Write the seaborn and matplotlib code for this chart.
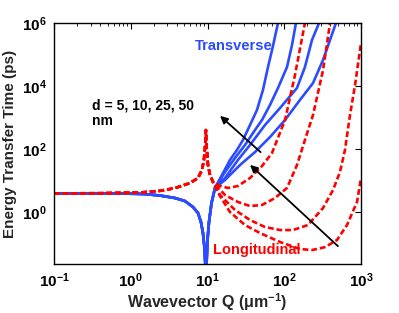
import numpy as np
import pandas as pd
import matplotlib
matplotlib.use("Agg")
import matplotlib.pyplot as plt
import seaborn as sns

# ---------------- data ----------------
# shared transverse branch (Q < ~12.5)
q_T_common = [0.1, 0.4, 0.72, 1.49, 2.4, 3.77, 5.09, 6.47, 7.52, 8.22, 8.73, 9.14, 9.36, 9.53,
              9.70, 10.0, 10.46, 11.28, 12.52]
t_T_common = [3.9, 3.9, 3.88, 3.73, 3.34, 2.78, 2.23, 1.44, 0.93, 0.48, 0.215, 0.072, 0.022, 0.001,
              0.02, 0.129, 0.48, 1.93, 5.8]
# shared longitudinal branch (Q < ~11.8)
q_L_common = [0.1, 0.4, 1.32, 2.4, 3.77, 5.92, 7.52, 8.47, 8.98, 9.28, 9.53, 9.70, 10.15, 10.78, 11.79]
t_L_common = [3.9, 3.95, 4.15, 4.7, 5.75, 8.3, 12.0, 21.5, 45.0, 107.0, 400.0, 134.0, 31.0, 15.0, 9.0]

# transverse branches for d = 50, 25, 10, 5 nm
q_T = {
    50: [15.45, 19.6, 24.2, 29.0, 35.8, 44.1, 52.8, 61.4, 71.3, 82.9],
    25: [16.9, 22.8, 30.8, 41.6, 51.3, 65.2, 82.9, 108.6, 126.2, 142.0],
    10: [16.9, 24.9, 35.8, 56.1, 88.1, 146.5, 186.0, 230.0, 284.0],
    5:  [16.9, 26.5, 41.6, 65.2, 102.4, 160.0, 237.0, 320.0, 395.0, 472.0],
}
t_T = {
    50: [15.0, 44.8, 93.0, 193.0, 578.0, 1730.0, 7460.0, 4.0e4, 1.86e5, 1.0e6],
    25: [18.6, 51.8, 134.0, 401.0, 834.0, 2500.0, 8650.0, 4.0e4, 2.0e5, 1.0e6],
    10: [12.0, 44.8, 134.0, 578.0, 2000.0, 8650.0, 4.0e4, 2.9e5, 1.0e6],
    5:  [10.4, 31.0, 80.0, 240.0, 834.0, 3600.0, 1.24e4, 6.7e4, 2.9e5, 1.0e6],
}
# longitudinal branches for d = 50, 25, 10, 5 nm
q_L = {
    50: [14.55, 18.5, 24.9, 35.8, 51.3, 69.2, 102.4, 138.0, 186.0],
    25: [16.9, 24.9, 35.8, 51.3, 75.7, 108.6, 146.5, 186.0, 237.0, 320.0, 395.0],
    10: [14.55, 22.8, 35.8, 56.1, 88.1, 130.0, 204.0, 320.0, 432.0, 532.0, 618.0, 719.0, 836.0, 1000.0],
    5:  [14.55, 19.6, 30.8, 48.3, 88.1, 160.0, 230.0, 340.0, 486.0, 657.0, 887.0, 1000.0],
}
t_L = {
    50: [6.7, 5.8, 6.7, 12.0, 28.8, 74.7, 834.0, 2.23e4, 1.0e6],
    25: [3.47, 2.08, 1.55, 1.67, 2.78, 5.8, 31.0, 193.0, 1200.0, 3.2e4, 1.0e6],
    10: [3.47, 1.16, 0.557, 0.334, 0.268, 0.268, 0.386, 1.34, 5.0, 18.6, 93.0, 1200.0, 1.07e4, 2.3e5],
    5:  [3.22, 1.0, 0.386, 0.215, 0.112, 0.067, 0.062, 0.077, 0.129, 0.386, 2.08, 12.0],
}
d_values = [50, 25, 10, 5]

# ---------------- build long table ----------------
rows = []
for d in d_values:
    for q, t in zip(q_T_common + q_T[d], t_T_common + t_T[d]):
        rows.append(("Transverse", d, q, t))
    for q, t in zip(q_L_common + q_L[d], t_L_common + t_L[d]):
        rows.append(("Longitudinal", d, q, t))
df = pd.DataFrame(rows, columns=["mode", "d", "Q", "T"])

# ---------------- style ----------------
sns.set_theme(style="white")
plt.rcParams["font.family"] = ["Liberation Sans", "DejaVu Sans"]
plt.rcParams["font.weight"] = "bold"
plt.rcParams["mathtext.fontset"] = "custom"
plt.rcParams["mathtext.rm"] = "Liberation Sans:bold"
plt.rcParams["mathtext.it"] = "Liberation Sans:bold:italic"
plt.rcParams["mathtext.bf"] = "Liberation Sans:bold"
plt.rcParams["mathtext.default"] = "bf"

BLUE = "#2b4cff"
RED = "#ff0000"

fig = plt.figure(figsize=(3.99, 3.13), dpi=100)
ax = fig.add_axes([54 / 399, 1 - 264 / 313, (361 - 54) / 399, (264 - 23) / 313])

for d in d_values:
    sub = df[(df["mode"] == "Transverse") & (df["d"] == d)]
    sns.lineplot(data=sub, x="Q", y="T", ax=ax, color=BLUE, lw=1.9,
                 estimator=None, sort=False, legend=False)
for d in d_values:
    sub = df[(df["mode"] == "Longitudinal") & (df["d"] == d)]
    sns.lineplot(data=sub, x="Q", y="T", ax=ax, color=RED, lw=1.9,
                 linestyle=(0, (2.2, 1.1)), estimator=None, sort=False, legend=False)

ax.set_xscale("log")
ax.set_yscale("log")
ax.set_xlim(0.1, 1000)
ax.set_ylim(10 ** -1.65, 1e6)
ax.set_yticks([1, 1e2, 1e4, 1e6])
ax.yaxis.set_minor_locator(matplotlib.ticker.NullLocator())
ax.xaxis.set_minor_locator(matplotlib.ticker.LogLocator(base=10, subs=np.arange(2, 10), numticks=20))
ax.tick_params(which="both", direction="in", top=True, right=True, colors="black",
               labelsize=11, pad=5)
ax.tick_params(which="major", length=4, width=0.8)
ax.tick_params(which="minor", length=2, width=0.6)
for s in ax.spines.values():
    s.set_color("black")
    s.set_linewidth(1.0)

ax.set_xlabel("Wavevector Q (\u03bcm$^{-1}$)", fontsize=11.5, fontweight="bold", labelpad=1)
ax.set_ylabel("Energy Transfer Time (ps)", fontsize=11, fontweight="bold", labelpad=4)

ax.text(22.1, 1.86e5, "Transverse", color=BLUE, fontsize=10.5, fontweight="bold",
        ha="center", va="center")
ax.text(44.2, 0.062, "Longitudinal", color=RED, fontsize=10.5, fontweight="bold",
        ha="center", va="center")
ax.text(0.31, 1390, "d = 5, 10, 25, 50\nnm", color="black", fontsize=10,
        fontweight="bold", ha="left", va="center", linespacing=1.15)

ax.annotate("", xy=(13.7, 1290), xytext=(52.4, 69.3),
            arrowprops=dict(arrowstyle="-|>", color="black", lw=1.3, mutation_scale=11))
ax.annotate("", xy=(33.7, 36), xytext=(532, 0.072),
            arrowprops=dict(arrowstyle="-|>", color="black", lw=1.3, mutation_scale=11))

fig.savefig("out.png", dpi=100)
